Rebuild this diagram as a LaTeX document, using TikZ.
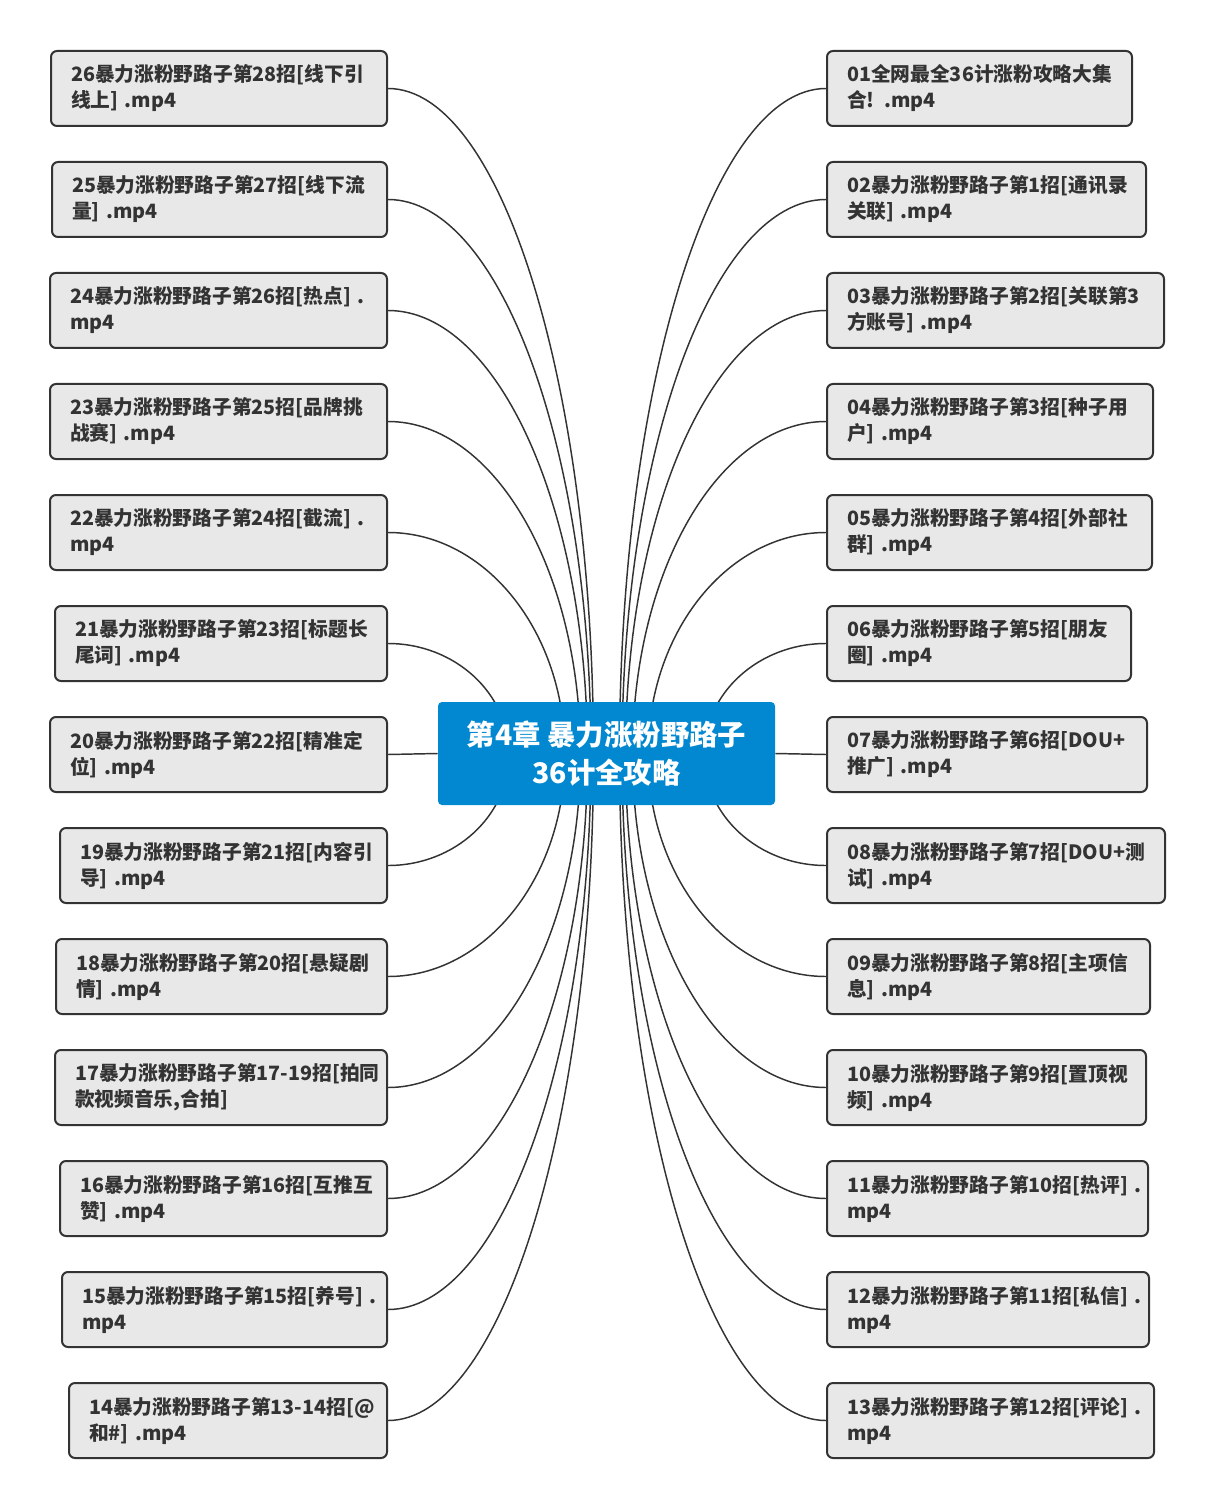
\documentclass[tikz,border=0pt]{standalone}
\usepackage{fontspec}
\setmainfont{Noto Sans CJK SC}
\usetikzlibrary{calc}
\definecolor{leafgray}{RGB}{232,232,232}
\definecolor{edgegray}{RGB}{51,51,51}
\definecolor{txtgray}{RGB}{51,51,51}
\definecolor{rootblue}{RGB}{2,136,209}
\newcommand\leafnode[7]{%
  \pgfmathsetmacro\lftw{(#5-40)*0.75}%
  \node[leaf,text width=\lftw pt,anchor=#2] (#1) at (#3,#4) {\mbox{#6}\\\mbox{#7}};}
\newcommand\lconn[2]{%
  \coordinate (s#1) at (#2,754.5);
  \draw[conn] (#1.east) .. controls ($(#1.east)!0.5523!(#1.east -| s#1)$) and ($(s#1)!0.5523!(#1.east -| s#1)$) .. (s#1);}
\newcommand\rconn[2]{%
  \coordinate (s#1) at (#2,754.5);
  \draw[conn] (#1.west) .. controls ($(#1.west)!0.5523!(#1.west -| s#1)$) and ($(s#1)!0.5523!(#1.west -| s#1)$) .. (s#1);}
\begin{document}
\begin{tikzpicture}[x=0.75pt,y=-0.75pt,
  leaf/.style={rectangle,rounded corners=4.5pt,draw=edgegray,line width=1.5pt,fill=leafgray,
    minimum height=56.25pt,inner xsep=15pt,inner ysep=0pt,align=left,text=txtgray,
    font=\fontsize{14.8pt}{19.5pt}\selectfont\bfseries},
  conn/.style={draw=edgegray,line width=1.1pt},
  rootbox/.style={rectangle,rounded corners=3pt,fill=rootblue,minimum width=252.75pt,minimum height=77.25pt,
    align=center,text=white,font=\fontsize{21.3pt}{28.5pt}\selectfont\bfseries,inner sep=0pt}]
\fill[white] (0,0) rectangle (1215,1508);
\path[use as bounding box] (0,0) rectangle (1215,1508);
% left leaves
\leafnode{c26}{east}{388}{88.5}{336}{26暴力涨粉野路子第28招[线下引}{线上] .mp4}
\leafnode{c25}{east}{388}{199.5}{335}{25暴力涨粉野路子第27招[线下流}{量] .mp4}
\leafnode{c24}{east}{388}{310.5}{337}{24暴力涨粉野路子第26招[热点] .}{mp4}
\leafnode{c23}{east}{388}{421.5}{337}{23暴力涨粉野路子第25招[品牌挑}{战赛] .mp4}
\leafnode{c22}{east}{388}{532.5}{337}{22暴力涨粉野路子第24招[截流] .}{mp4}
\leafnode{c21}{east}{388}{643.5}{332}{21暴力涨粉野路子第23招[标题长}{尾词] .mp4}
\leafnode{c20}{east}{388}{754.5}{337}{20暴力涨粉野路子第22招[精准定}{位] .mp4}
\leafnode{c19}{east}{388}{865.5}{327}{19暴力涨粉野路子第21招[内容引}{导] .mp4}
\leafnode{c18}{east}{388}{976.5}{331}{18暴力涨粉野路子第20招[悬疑剧}{情] .mp4}
\leafnode{c17}{east}{388}{1087.5}{332}{17暴力涨粉野路子第17-19招[拍同}{款视频音乐,合拍]}
\leafnode{c16}{east}{388}{1198.5}{327}{16暴力涨粉野路子第16招[互推互}{赞] .mp4}
\leafnode{c15}{east}{388}{1309.5}{325}{15暴力涨粉野路子第15招[养号] .}{mp4}
\leafnode{c14}{east}{388}{1420.5}{318}{14暴力涨粉野路子第13-14招[@}{和\#] .mp4}
% right leaves
\leafnode{c01}{west}{826}{88.5}{305}{01全网最全36计涨粉攻略大集}{合! .mp4}
\leafnode{c02}{west}{826}{199.5}{319}{02暴力涨粉野路子第1招[通讯录}{关联] .mp4}
\leafnode{c03}{west}{826}{310.5}{337}{03暴力涨粉野路子第2招[关联第3}{方账号] .mp4}
\leafnode{c04}{west}{826}{421.5}{326}{04暴力涨粉野路子第3招[种子用}{户] .mp4}
\leafnode{c05}{west}{826}{532.5}{325}{05暴力涨粉野路子第4招[外部社}{群] .mp4}
\leafnode{c06}{west}{826}{643.5}{304}{06暴力涨粉野路子第5招[朋友}{圈] .mp4}
\leafnode{c07}{west}{826}{754.5}{320}{07暴力涨粉野路子第6招[DOU+}{推广] .mp4}
\leafnode{c08}{west}{826}{865.5}{338}{08暴力涨粉野路子第7招[DOU+测}{试] .mp4}
\leafnode{c09}{west}{826}{976.5}{323}{09暴力涨粉野路子第8招[主项信}{息] .mp4}
\leafnode{c10}{west}{826}{1087.5}{319}{10暴力涨粉野路子第9招[置顶视}{频] .mp4}
\leafnode{c11}{west}{826}{1198.5}{321}{11暴力涨粉野路子第10招[热评] .}{mp4}
\leafnode{c12}{west}{826}{1309.5}{322}{12暴力涨粉野路子第11招[私信] .}{mp4}
\leafnode{c13}{west}{826}{1420.5}{327}{13暴力涨粉野路子第12招[评论] .}{mp4}
% curved connectors (ends hidden under the root)
\lconn{c26}{593.5}
\lconn{c25}{591}
\lconn{c24}{587.5}
\lconn{c23}{580.5}
\lconn{c22}{565}
\lconn{c21}{509}
\lconn{c19}{509}
\lconn{c18}{565}
\lconn{c17}{580.5}
\lconn{c16}{587.5}
\lconn{c15}{591}
\lconn{c14}{593.5}
\rconn{c01}{619.5}
\rconn{c02}{622}
\rconn{c03}{625.5}
\rconn{c04}{632.5}
\rconn{c05}{648}
\rconn{c06}{704}
\rconn{c08}{704}
\rconn{c09}{648}
\rconn{c10}{632.5}
\rconn{c11}{625.5}
\rconn{c12}{622}
\rconn{c13}{619.5}
% root
\node[rootbox] (root) at (606.5,753.5) {第4章 暴力涨粉野路子\\36计全攻略};
\draw[conn] (c20.east) -- (root.west);
\draw[conn] (c07.west) -- (root.east);
\end{tikzpicture}
\end{document}
